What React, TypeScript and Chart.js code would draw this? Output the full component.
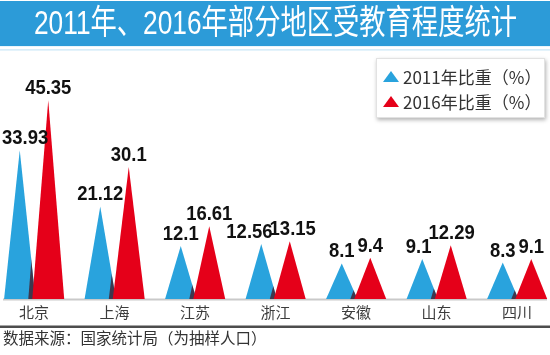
import React, { useEffect, useRef } from 'react';
import { Chart, registerables } from 'chart.js';

Chart.register(...registerables);

const TITLE = '2011年、2016年部分地区受教育程度统计';
const SOURCE = '数据来源：国家统计局（为抽样人口）';
const regions = ['北京', '上海', '江苏', '浙江', '安徽', '山东', '四川'];
const share2011 = [33.93, 21.12, 12.1, 12.56, 8.1, 9.1, 8.3];
const share2016 = [45.35, 30.1, 16.61, 13.15, 9.4, 12.29, 9.1];
const seriesLabels = ['2011年比重（%）', '2016年比重（%）'];
const seriesColors = ['#29a3dd', '#e50019'];

const CJK = '"Noto Sans CJK SC", "Noto Sans", sans-serif';
const TITLE_FONT = '"Liberation Sans", "Noto Sans CJK SC", sans-serif';
const NUM = '"Liberation Sans", Arial, sans-serif';
const LABEL_SCALE_X = 0.88;

function triPath(ctx: CanvasRenderingContext2D, x: number, y: number, base: number, half: number, dx = 0) {
  ctx.beginPath();
  ctx.moveTo(x - half + dx, base);
  ctx.lineTo(x + dx, y);
  ctx.lineTo(x + half + dx, base);
  ctx.closePath();
}

const decorPlugin = {
  id: 'decor',
  beforeDraw(chart: any) {
    const { ctx, width } = chart;
    const tb = chart.titleBlock;
    ctx.save();
    ctx.fillStyle = '#2c9bd8';
    ctx.fillRect(0, 1, width, tb.bottom - 1);
    ctx.fillStyle = '#d3ecf8';
    ctx.fillRect(0, tb.bottom + 3, width, 1.5);
    ctx.restore();
  },
  beforeDatasetsDraw(chart: any) {
    const { ctx, chartArea, width } = chart;
    ctx.save();
    ctx.fillStyle = '#c9c9c9';
    ctx.fillRect(3, chartArea.bottom - 0.5, width - 6, 2);
    const m0 = chart.getDatasetMeta(0).data;
    const m1 = chart.getDatasetMeta(1).data;
    for (let i = 0; i < m0.length; i++) {
      const a = m0[i].getProps(['x', 'y', 'base', 'width'], true);
      const b = m1[i].getProps(['x', 'y', 'base', 'width'], true);
      const ha = a.width * 0.55;
      const hb = b.width * 0.56;
      triPath(ctx, a.x, a.y, a.base, ha);
      ctx.fillStyle = seriesColors[0];
      ctx.fill();
      ctx.save();
      triPath(ctx, a.x, a.y, a.base, ha);
      ctx.clip();
      triPath(ctx, b.x, b.y, b.base, hb, -4);
      ctx.fillStyle = 'rgba(70,20,30,0.75)';
      ctx.fill();
      ctx.restore();
      triPath(ctx, b.x, b.y, b.base, hb);
      ctx.fillStyle = seriesColors[1];
      ctx.fill();
    }
    ctx.restore();
    return false;
  },
  afterDraw(chart: any) {
    const { ctx, width } = chart;
    ctx.save();
    ctx.fillStyle = '#4d4d4d';
    ctx.fillRect(0, 325.5, width, 2.5);
    ctx.fillStyle = '#333';
    ctx.font = `15.5px ${CJK}`;
    ctx.textAlign = 'left';
    ctx.textBaseline = 'middle';
    ctx.fillText(SOURCE, 3, 338);

    const lx = width - 174, ly = 58, lw = 169, lh = 60;
    ctx.save();
    ctx.shadowColor = 'rgba(0,0,0,0.3)';
    ctx.shadowBlur = 4;
    ctx.shadowOffsetX = 1;
    ctx.shadowOffsetY = 2;
    ctx.fillStyle = '#fff';
    ctx.fillRect(lx, ly, lw, lh);
    ctx.restore();
    ctx.strokeStyle = '#e2e2e2';
    ctx.lineWidth = 1;
    ctx.strokeRect(lx + 0.5, ly + 0.5, lw - 1, lh - 1);
    chart.data.datasets.forEach((ds: any, i: number) => {
      const cy = ly + 19 + i * 25;
      const tx = lx + 15;
      ctx.beginPath();
      ctx.moveTo(tx - 8, cy + 5);
      ctx.lineTo(tx, cy - 6);
      ctx.lineTo(tx + 8, cy + 5);
      ctx.closePath();
      ctx.fillStyle = seriesColors[i];
      ctx.fill();
      ctx.fillStyle = '#333';
      ctx.font = `17px ${CJK}`;
      ctx.textAlign = 'left';
      ctx.textBaseline = 'middle';
      ctx.fillText(ds.label, lx + 27, cy + 1);
    });

    ctx.font = `bold 21px ${NUM}`;
    ctx.fillStyle = '#111';
    ctx.textAlign = 'center';
    ctx.textBaseline = 'alphabetic';
    const m0 = chart.getDatasetMeta(0).data;
    const m1 = chart.getDatasetMeta(1).data;
    const d0 = chart.data.datasets[0].data;
    const d1 = chart.data.datasets[1].data;
    const put = (t: string, x: number, y: number) => {
      ctx.save();
      ctx.translate(x, y);
      ctx.scale(LABEL_SCALE_X, 1);
      ctx.fillText(t, 0, 0);
      ctx.restore();
    };
    for (let i = 0; i < m0.length; i++) {
      const t0 = String(d0[i]);
      const t1 = String(d1[i]);
      let x0 = m0[i].x, x1 = m1[i].x;
      const y0 = m0[i].y - 6, y1 = m1[i].y - 6;
      const w0 = ctx.measureText(t0).width * LABEL_SCALE_X;
      const w1 = ctx.measureText(t1).width * LABEL_SCALE_X;
      const overlap = (x0 + w0 / 2) - (x1 - w1 / 2);
      if (Math.abs(y0 - y1) < 16 && overlap > 3) {
        const ex = overlap - 3;
        x0 -= ex * 0.8;
        x1 += ex * 0.2;
      }
      x0 = Math.max(x0, w0 / 2 + 2);
      x1 = Math.min(x1, width - w1 / 2 - 2);
      put(t0, x0, y0);
      put(t1, x1, y1);
    }
    ctx.restore();
  },
};

export default function App() {
  const ref = useRef<HTMLCanvasElement | null>(null);
  useEffect(() => {
    if (!ref.current) return;
    const chart = new Chart(ref.current, {
      type: 'bar',
      data: {
        labels: regions,
        datasets: [
          { label: seriesLabels[0], data: share2011, backgroundColor: seriesColors[0] },
          { label: seriesLabels[1], data: share2016, backgroundColor: seriesColors[1] },
        ],
      },
      options: {
        animation: false,
        responsive: true,
        maintainAspectRatio: false,
        layout: { padding: { left: 34, right: 33, top: 1, bottom: 30 } },
        datasets: { bar: { categoryPercentage: 0.708, barPercentage: 1 } },
        scales: {
          x: {
            offset: false,
            grid: { display: false, drawTicks: false },
            border: { display: false },
            ticks: { color: '#3c3c3c', padding: 4, font: { family: CJK, size: 15 } },
          },
          y: { display: false, min: 0, max: 57.7 },
        },
        plugins: {
          legend: { display: false },
          tooltip: { enabled: false },
          title: {
            display: true,
            text: TITLE,
            color: '#ffffff',
            font: { family: TITLE_FONT, size: 34, weight: 'normal', lineHeight: 1.15 },
            padding: { top: 4, bottom: 2 },
          },
        },
      },
      plugins: [decorPlugin],
    } as any);
    return () => chart.destroy();
  }, []);
  return (
    <div style={{ position: 'fixed', left: 0, top: 0, width: 550, height: 355, background: '#fff' }}>
      <canvas ref={ref} />
    </div>
  );
}
